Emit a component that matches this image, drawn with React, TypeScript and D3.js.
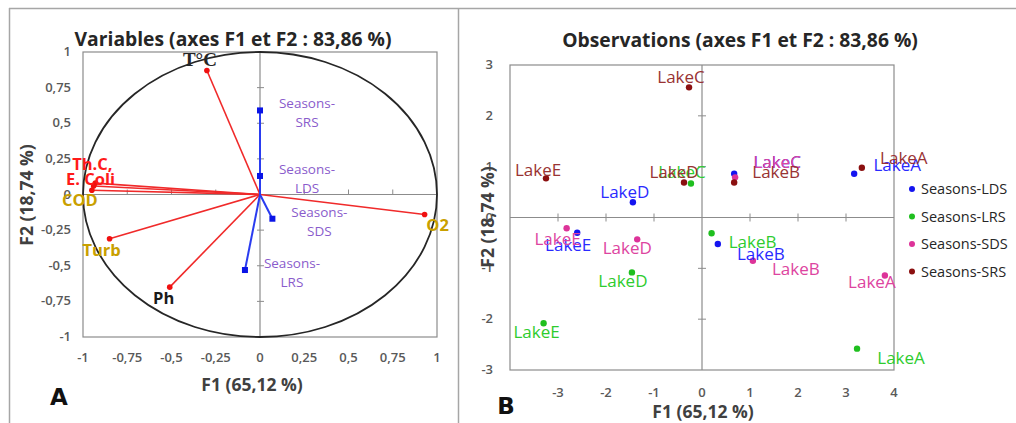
import React, { useEffect, useRef } from "react";
import * as d3 from "d3";

// ---- panel A : variables (correlation circle) ----
const varNames = ["T°C", "Th.C,", "E. Coli", "COD", "O2", "Turb", "Ph"];
const varF1 = [-0.3, -0.93, -0.94, -0.95, 0.93, -0.85, -0.51];
const varF2 = [0.87, 0.08, 0.06, 0.03, -0.14, -0.31, -0.65];

const seasonVars = ["SRS", "LDS", "SDS", "LRS"];
const seasonF1 = [0, 0, 0.07, -0.085];
const seasonF2 = [0.59, 0.13, -0.17, -0.53];

const circleTicks = [-1, -0.75, -0.5, -0.25, 0, 0.25, 0.5, 0.75, 1];

// ---- panel B : observations ----
const seriesNames = ["Seasons-LDS", "Seasons-LRS", "Seasons-SDS", "Seasons-SRS"];
const lakes = ["LakeA", "LakeB", "LakeC", "LakeD", "LakeE"];
// F1 / F2 per series, in lake order A..E
const ldsF1 = [3.17, 0.33, 0.67, -1.44, -2.6];
const ldsF2 = [0.86, -0.52, 0.86, 0.3, -0.3];
const lrsF1 = [3.23, 0.2, -0.23, -1.46, -3.3];
const lrsF2 = [-2.58, -0.31, 0.67, -1.08, -2.08];
const sdsF1 = [3.81, 1.06, 0.69, -1.35, -2.82];
const sdsF2 = [-1.14, -0.85, 0.79, -0.43, -0.21];
const srsF1 = [3.33, 0.67, -0.27, -0.375, -3.25];
const srsF2 = [0.98, 0.69, 2.56, 0.69, 0.77];

const obsXTicks = [-3, -2, -1, 0, 1, 2, 3, 4];
const obsYTicks = [-3, -2, -1, 0, 1, 2, 3];

const FONT = "'Open Sans', 'DejaVu Sans', sans-serif";

const App = () => {
  const svgRef = useRef(null);

  useEffect(() => {
    const svg = d3.select(svgRef.current);
    svg.selectAll("*").remove();

    const fmt = d3.formatLocale({
      decimal: ",",
      thousands: " ",
      grouping: [3],
      currency: ["", ""],
      minus: "-",
    }).format("~g");

    // frame lines
    svg.append("line").attr("x1", 9).attr("x2", 1016).attr("y1", 8.5).attr("y2", 8.5)
      .attr("stroke", "#a6a6a6").attr("stroke-width", 1.5);
    svg.append("line").attr("x1", 9.5).attr("x2", 9.5).attr("y1", 8).attr("y2", 423)
      .attr("stroke", "#a6a6a6").attr("stroke-width", 1.5);
    svg.append("line").attr("x1", 458.5).attr("x2", 458.5).attr("y1", 8).attr("y2", 423)
      .attr("stroke", "#a6a6a6").attr("stroke-width", 1.5);

    // ===================== Panel A =====================
    const x = d3.scaleLinear().domain([-1, 1]).range([83, 437]);
    const y = d3.scaleLinear().domain([-1, 1]).range([337, 52]);
    const a = svg.append("g");

    a.append("text").attr("x", 233).attr("y", 46).attr("text-anchor", "middle")
      .attr("font-family", FONT).attr("font-weight", "bold").attr("font-size", 19.3)
      .attr("fill", "#262626").text("Variables (axes F1 et F2 : 83,86 %)");

    a.append("rect").attr("x", x(-1)).attr("y", y(1))
      .attr("width", x(1) - x(-1)).attr("height", y(-1) - y(1))
      .attr("fill", "none").attr("stroke", "#8c8c8c").attr("stroke-width", 1.2);

    // zero axes
    a.append("line").attr("x1", x(-1)).attr("x2", x(1)).attr("y1", y(0)).attr("y2", y(0))
      .attr("stroke", "#8c8c8c").attr("stroke-width", 1.2);
    a.append("line").attr("x1", x(0)).attr("x2", x(0)).attr("y1", y(-1)).attr("y2", y(1))
      .attr("stroke", "#8c8c8c").attr("stroke-width", 1.2);
    a.selectAll(".tx").data(circleTicks.filter((d) => d !== 0 && Math.abs(d) !== 1)).enter()
      .append("line").attr("x1", (d) => x(d)).attr("x2", (d) => x(d))
      .attr("y1", y(0) - 5).attr("y2", y(0)).attr("stroke", "#8c8c8c");
    a.selectAll(".ty").data(circleTicks.filter((d) => d !== 0 && Math.abs(d) !== 1)).enter()
      .append("line").attr("y1", (d) => y(d)).attr("y2", (d) => y(d))
      .attr("x1", x(0) - 3).attr("x2", x(0) + 4).attr("stroke", "#8c8c8c");

    // tick labels
    a.selectAll(".xl").data(circleTicks).enter().append("text")
      .attr("x", (d) => x(d)).attr("y", 362).attr("text-anchor", "middle")
      .attr("font-family", FONT).attr("font-size", 13).attr("font-weight", 600)
      .attr("fill", "#595959").text((d) => fmt(d));
    a.selectAll(".yl").data(circleTicks).enter().append("text")
      .attr("x", 71).attr("y", (d) => y(d) + 4).attr("text-anchor", "end")
      .attr("font-family", FONT).attr("font-size", 13).attr("font-weight", 600)
      .attr("fill", "#595959").text((d) => fmt(d));

    // axis titles
    a.append("text").attr("x", 252).attr("y", 391).attr("text-anchor", "middle")
      .attr("font-family", FONT).attr("font-size", 17.5).attr("font-weight", "bold")
      .attr("fill", "#404040").text("F1 (65,12 %)");
    a.append("text").attr("transform", `translate(33,195) rotate(-90)`)
      .attr("text-anchor", "middle")
      .attr("font-family", FONT).attr("font-size", 17.5).attr("font-weight", "bold")
      .attr("fill", "#404040").text("F2 (18,74 %)");

    // correlation circle
    a.append("ellipse").attr("cx", x(0)).attr("cy", y(0))
      .attr("rx", x(1) - x(0)).attr("ry", y(0) - y(1))
      .attr("fill", "none").attr("stroke", "#262626").attr("stroke-width", 1.8);

    // variable vectors
    const vars = varNames.map((n, i) => ({ name: n, f1: varF1[i], f2: varF2[i] }));
    a.selectAll(".vv").data(vars).enter().append("line")
      .attr("x1", x(0)).attr("y1", y(0))
      .attr("x2", (d) => x(d.f1)).attr("y2", (d) => y(d.f2))
      .attr("stroke", "#f02a2a").attr("stroke-width", 1.6);
    a.selectAll(".vp").data(vars).enter().append("circle")
      .attr("cx", (d) => x(d.f1)).attr("cy", (d) => y(d.f2)).attr("r", 2.8)
      .attr("fill", "#f01010");

    const varLabel = {
      "T°C": { dx: -7, dy: -5, fill: "#262626", font: "'Liberation Serif', serif", size: 19 },
      "Th.C,": { dx: -3, dy: -13, fill: "#ff1a1a", font: FONT, size: 16.5 },
      "E. Coli": { dx: -3, dy: -1, fill: "#ff1a1a", font: FONT, size: 16.5 },
      COD: { dx: -12, dy: 16, fill: "#c9a000", font: FONT, size: 16.5 },
      O2: { dx: 13, dy: 17, fill: "#c9a000", font: FONT, size: 16.5 },
      Turb: { dx: -8, dy: 17, fill: "#c9a000", font: FONT, size: 16.5 },
      Ph: { dx: -6, dy: 17, fill: "#1a1a1a", font: FONT, size: 16.5 },
    };
    a.selectAll(".vl").data(vars).enter().append("text")
      .attr("x", (d) => x(d.f1) + varLabel[d.name].dx)
      .attr("y", (d) => y(d.f2) + varLabel[d.name].dy)
      .attr("text-anchor", "middle").attr("font-weight", "bold")
      .attr("font-family", (d) => varLabel[d.name].font)
      .attr("font-size", (d) => varLabel[d.name].size)
      .attr("fill", (d) => varLabel[d.name].fill)
      .text((d) => d.name);

    // season (supplementary) vectors
    const seas = seasonVars.map((n, i) => ({ name: n, f1: seasonF1[i], f2: seasonF2[i] }));
    a.selectAll(".sv").data(seas).enter().append("line")
      .attr("x1", x(0)).attr("y1", y(0))
      .attr("x2", (d) => x(d.f1)).attr("y2", (d) => y(d.f2))
      .attr("stroke", "#2a3cf0").attr("stroke-width", 2);
    a.selectAll(".sp").data(seas).enter().append("rect")
      .attr("x", (d) => x(d.f1) - 3).attr("y", (d) => y(d.f2) - 3)
      .attr("width", 6).attr("height", 6).attr("fill", "#0a14e6");
    const sl = a.selectAll(".sl").data(seas).enter().append("text")
      .attr("text-anchor", "middle").attr("font-family", FONT).attr("font-size", 13.5)
      .attr("fill", "#8a5ccc");
    sl.append("tspan").attr("x", (d) => x(d.f1) + 47).attr("y", (d) => y(d.f2) - 2)
      .text("Seasons-");
    sl.append("tspan").attr("x", (d) => x(d.f1) + 47).attr("y", (d) => y(d.f2) + 17)
      .text((d) => d.name);

    a.append("text").attr("x", 59).attr("y", 405).attr("text-anchor", "middle")
      .attr("font-family", "'DejaVu Sans', sans-serif").attr("font-weight", "bold")
      .attr("font-size", 23).attr("fill", "#111").text("A");

    // ===================== Panel B =====================
    const bx = d3.scaleLinear().domain([-4, 4]).range([510, 894]);
    const by = d3.scaleLinear().domain([-3, 3]).range([370, 65]);
    const b = svg.append("g");

    b.append("text").attr("x", 740).attr("y", 47).attr("text-anchor", "middle")
      .attr("font-family", FONT).attr("font-weight", "bold").attr("font-size", 19.3)
      .attr("fill", "#262626").text("Observations (axes F1 et F2 : 83,86 %)");

    b.append("rect").attr("x", bx(-4)).attr("y", by(3))
      .attr("width", bx(4) - bx(-4)).attr("height", by(-3) - by(3))
      .attr("fill", "none").attr("stroke", "#8c8c8c").attr("stroke-width", 1.2);
    b.append("line").attr("x1", bx(-4)).attr("x2", bx(4)).attr("y1", by(0)).attr("y2", by(0))
      .attr("stroke", "#8c8c8c").attr("stroke-width", 1.2);
    b.append("line").attr("x1", bx(0)).attr("x2", bx(0)).attr("y1", by(-3)).attr("y2", by(3))
      .attr("stroke", "#8c8c8c").attr("stroke-width", 1.2);
    b.selectAll(".tx").data(obsXTicks.filter((d) => d !== 0 && d !== 4)).enter()
      .append("line").attr("x1", (d) => bx(d)).attr("x2", (d) => bx(d))
      .attr("y1", by(0) - 4).attr("y2", by(0) + 4).attr("stroke", "#8c8c8c");
    b.selectAll(".ty").data(obsYTicks.filter((d) => d !== 0 && Math.abs(d) !== 3)).enter()
      .append("line").attr("y1", (d) => by(d)).attr("y2", (d) => by(d))
      .attr("x1", bx(0) - 4).attr("x2", bx(0) + 4).attr("stroke", "#8c8c8c");

    b.selectAll(".xl").data(obsXTicks).enter().append("text")
      .attr("x", (d) => bx(d)).attr("y", 397).attr("text-anchor", "middle")
      .attr("font-family", FONT).attr("font-size", 13).attr("font-weight", 600)
      .attr("fill", "#595959").text((d) => fmt(d));
    b.selectAll(".yl").data(obsYTicks).enter().append("text")
      .attr("x", 493).attr("y", (d) => by(d) + 4).attr("text-anchor", "end")
      .attr("font-family", FONT).attr("font-size", 13).attr("font-weight", 600)
      .attr("fill", "#595959").text((d) => fmt(d));

    b.append("text").attr("x", 703).attr("y", 418).attr("text-anchor", "middle")
      .attr("font-family", FONT).attr("font-size", 17.5).attr("font-weight", "bold")
      .attr("fill", "#404040").text("F1 (65,12 %)");
    b.append("text").attr("transform", `translate(494,217) rotate(-90)`)
      .attr("text-anchor", "middle")
      .attr("font-family", FONT).attr("font-size", 17.5).attr("font-weight", "bold")
      .attr("fill", "#404040").text("F2 (18,74 %)");

    const color = d3.scaleOrdinal().domain(seriesNames)
      .range(["#1414f0", "#1fbf1f", "#dd3399", "#8b1010"]);
    const labelColor = d3.scaleOrdinal().domain(seriesNames)
      .range(["#2a2aff", "#2ecc2e", "#dd44a0", "#993333"]);

    const f1s = [ldsF1, lrsF1, sdsF1, srsF1];
    const f2s = [ldsF2, lrsF2, sdsF2, srsF2];
    const obs = seriesNames.flatMap((s, si) =>
      lakes.map((l, li) => ({ series: s, lake: l, f1: f1s[si][li], f2: f2s[si][li] }))
    );

    // label offsets (text centre relative to the point), per series / lake
    const obsLabel = {
      "Seasons-LDS": { LakeA: [43, -3], LakeB: [43, 16], LakeC: [43, -6], LakeD: [-8, -4], LakeE: [-9, 18] },
      "Seasons-LRS": { LakeA: [44, 15], LakeB: [41, 15], LakeC: [-9, -5], LakeD: [-9, 15], LakeE: [-7, 15] },
      "Seasons-SDS": { LakeA: [-13, 13], LakeB: [43, 14], LakeC: [42, -9], LakeD: [-10, 15], LakeE: [-9, 17] },
      "Seasons-SRS": { LakeA: [42, -4], LakeB: [42, -4], LakeC: [-8, -4], LakeD: [-10, -4], LakeE: [-8, -2] },
    };

    b.selectAll(".op").data(obs).enter().append("circle")
      .attr("cx", (d) => bx(d.f1)).attr("cy", (d) => by(d.f2)).attr("r", 3.2)
      .attr("fill", (d) => color(d.series));
    b.selectAll(".ol").data(obs).enter().append("text")
      .attr("x", (d) => bx(d.f1) + obsLabel[d.series][d.lake][0])
      .attr("y", (d) => by(d.f2) + obsLabel[d.series][d.lake][1])
      .attr("text-anchor", "middle").attr("font-family", FONT).attr("font-size", 17)
      .attr("fill", (d) => labelColor(d.series)).text((d) => d.lake);

    // legend
    const lg = b.selectAll(".lg").data(seriesNames).enter().append("g")
      .attr("transform", (d, i) => `translate(912,${189 + i * 27.5})`);
    lg.append("circle").attr("r", 3).attr("fill", (d) => color(d));
    lg.append("text").attr("x", 9).attr("y", 5).attr("font-family", FONT)
      .attr("font-size", 14.5).attr("fill", "#262626").text((d) => d);

    b.append("text").attr("x", 506).attr("y", 414).attr("text-anchor", "middle")
      .attr("font-family", "'DejaVu Sans', sans-serif").attr("font-weight", "bold")
      .attr("font-size", 23).attr("fill", "#111").text("B");
  }, []);

  return (
    <svg
      ref={svgRef}
      width={1016}
      height={423}
      style={{ position: "absolute", left: 0, top: 0, background: "#fff" }}
    ></svg>
  );
};

export default App;
